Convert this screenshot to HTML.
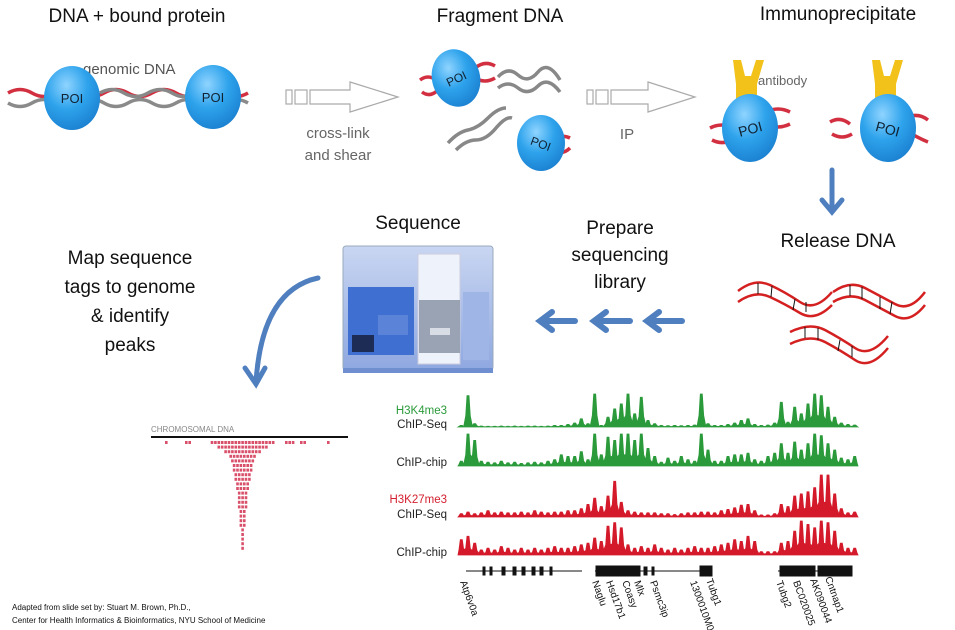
<!DOCTYPE html>
<html><head><meta charset="utf-8">
<style>
html,body{margin:0;padding:0;background:#fff;}
svg{display:block;}
.t{font-family:"Liberation Sans",sans-serif;fill:#111;}
</style></head>
<body>
<svg id="root" width="955" height="630" viewBox="0 0 955 630" xmlns="http://www.w3.org/2000/svg">
<defs>
<radialGradient id="poi" cx="0.4" cy="0.3" r="0.75"><stop offset="0" stop-color="#8fd4ff"/><stop offset="0.5" stop-color="#2ea3ec"/><stop offset="1" stop-color="#1a7fcf"/></radialGradient>
<linearGradient id="seqbox" x1="0" y1="0" x2="0" y2="1"><stop offset="0" stop-color="#c9d6f2"/><stop offset="1" stop-color="#8fa8e0"/></linearGradient>
</defs>

<text class="t" x="137" y="22" font-size="19" text-anchor="middle">DNA + bound protein</text>
<text class="t" x="500" y="22" font-size="19" text-anchor="middle">Fragment DNA</text>
<text class="t" x="838" y="20" font-size="19" text-anchor="middle">Immunoprecipitate</text>
<text class="t" x="418" y="229" font-size="19" text-anchor="middle">Sequence</text>
<g>
<text class="t" x="620" y="234" font-size="19" text-anchor="middle">Prepare</text>
<text class="t" x="620" y="261" font-size="19" text-anchor="middle">sequencing</text>
<text class="t" x="620" y="288" font-size="19" text-anchor="middle">library</text>
</g>
<text class="t" x="838" y="247" font-size="19" text-anchor="middle">Release DNA</text>
<g>
<text class="t" x="130" y="264" font-size="19" text-anchor="middle">Map sequence</text>
<text class="t" x="130" y="293" font-size="19" text-anchor="middle">tags to genome</text>
<text class="t" x="130" y="322" font-size="19" text-anchor="middle">&amp; identify</text>
<text class="t" x="130" y="351" font-size="19" text-anchor="middle">peaks</text>
</g>

<g fill="none" stroke-width="3.5">
<path d="M8 93 Q20 86 32 93 T56 93 T80 93 T104 93 T128 93 T152 93 T176 93 T200 93 T224 93 T248 93" stroke="#d23040"/>
<path d="M8 103 Q20 110 32 103 T56 103 T80 103 T104 103 T128 103 T152 103 T176 103 T200 103 T224 103 T248 103" stroke="#8a8a8a"/>
<path d="M100 93 Q112 86 124 93 T148 93 T172 93 T190 93" stroke="#888"/>
</g>
<text x="83" y="74" font-family="Liberation Sans,sans-serif" font-size="15" fill="#555">genomic DNA</text>
<g><ellipse cx="72" cy="98" rx="28" ry="32" fill="url(#poi)"/><text x="72" y="103" font-family="Liberation Sans,sans-serif" font-size="13" text-anchor="middle" fill="#123">POI</text></g>
<g><ellipse cx="213" cy="97" rx="28" ry="32" fill="url(#poi)"/><text x="213" y="102" font-family="Liberation Sans,sans-serif" font-size="13" text-anchor="middle" fill="#123">POI</text></g>

<g fill="#fff" stroke="#aaa" stroke-width="1.2">
<rect x="286" y="90" width="6" height="14"/><rect x="295" y="90" width="12" height="14"/>
<path d="M310 90 L350 90 L350 82 L398 97 L350 112 L350 104 L310 104 Z"/>
</g>
<g>
<text x="338" y="138" font-family="Liberation Sans,sans-serif" font-size="15" fill="#666" text-anchor="middle">cross-link</text>
<text x="338" y="160" font-family="Liberation Sans,sans-serif" font-size="15" fill="#666" text-anchor="middle">and shear</text>
</g>
<g fill="#fff" stroke="#aaa" stroke-width="1.2">
<rect x="587" y="90" width="6" height="14"/><rect x="596" y="90" width="12" height="14"/>
<path d="M611 90 L648 90 L648 82 L695 97 L648 112 L648 104 L611 104 Z"/>
</g>
<text x="627" y="139" font-family="Liberation Sans,sans-serif" font-size="15" fill="#666" text-anchor="middle">IP</text>

<g fill="none" stroke-width="3.5">
<path d="M420 80 Q428 74 436 80" stroke="#d23040"/><path d="M422 92 Q430 98 438 90" stroke="#d23040"/>
<path d="M475 68 Q485 60 495 66" stroke="#d23040"/><path d="M475 78 Q485 84 495 78" stroke="#d23040"/>
<path d="M498 77 Q508 66 518 75 T538 72 T560 80" stroke="#888"/>
<path d="M498 88 Q508 80 518 88 T538 86 T560 92" stroke="#888"/>
<path d="M448 143 Q458 132 468 130 T488 118 T506 108" stroke="#888"/>
<path d="M456 150 Q466 140 476 140 T496 128 T512 118" stroke="#888"/>
<path d="M552 140 Q562 134 570 138" stroke="#d23040"/><path d="M552 150 Q562 156 570 148" stroke="#d23040"/>
</g>
<g><ellipse cx="456" cy="78" rx="24" ry="29" fill="url(#poi)" transform="rotate(-15 456 78)"/><text x="456" y="83" font-family="Liberation Sans,sans-serif" font-size="12" text-anchor="middle" fill="#123" transform="rotate(-25 456 78)">POI</text></g>
<g><ellipse cx="541" cy="143" rx="24" ry="28" fill="url(#poi)"/><text x="541" y="148" font-family="Liberation Sans,sans-serif" font-size="12" text-anchor="middle" fill="#123" transform="rotate(20 541 143)">POI</text></g>

<g fill="#f2c21a">
<path d="M733 60 L741 60 L745 76 L751 76 L756 60 L764 60 L757 84 L757 100 L736 100 L736 84 Z"/>
<path d="M872 60 L880 60 L884 76 L890 76 L895 60 L903 60 L896 84 L896 100 L875 100 L875 84 Z"/>
</g>
<text x="758" y="85" font-family="Liberation Sans,sans-serif" font-size="13" fill="#666">antibody</text>
<g fill="none" stroke="#d23040" stroke-width="3.5">
<path d="M710 128 Q722 122 734 128"/><path d="M712 140 Q724 146 736 138"/>
<path d="M766 112 Q778 106 790 112"/><path d="M766 124 Q778 130 790 124"/>
<path d="M830 122 Q840 116 850 124"/><path d="M832 134 Q842 140 852 134"/>
<path d="M905 118 Q918 112 928 120"/><path d="M905 130 Q918 138 928 142"/>
</g>
<g><ellipse cx="750" cy="128" rx="28" ry="34" fill="url(#poi)"/><text x="750" y="134" font-family="Liberation Sans,sans-serif" font-size="14" text-anchor="middle" fill="#123" transform="rotate(-15 750 128)">POI</text></g>
<g><ellipse cx="888" cy="128" rx="28" ry="34" fill="url(#poi)"/><text x="888" y="134" font-family="Liberation Sans,sans-serif" font-size="14" text-anchor="middle" fill="#123" transform="rotate(15 888 128)">POI</text></g>

<g stroke="#4f7fbf" stroke-width="5" fill="none" stroke-linecap="round">
<path d="M832 170 L832 210"/><path d="M822 200 L832 212 L842 200"/>
</g>
<g stroke="#4f7fbf" stroke-width="6" fill="none" stroke-linecap="round">
<path d="M544 321 L575 321"/><path d="M552 312 L540 321 L552 330"/>
<path d="M598 321 L630 321"/><path d="M606 312 L594 321 L606 330"/>
<path d="M651 321 L682 321"/><path d="M659 312 L647 321 L659 330"/>
</g>
<g stroke="#4f7fbf" stroke-width="5" fill="none" stroke-linecap="round">
<path d="M318 278 Q262 290 256 382"/><path d="M245 368 L256 384 L265 368"/>
</g>

<g fill="none" stroke="#d42020" stroke-width="2.5">
<path d="M738 291 Q755 278 770 285 T800 302 T832 292"/><path d="M738 302 Q755 290 770 297 T800 313 T832 305"/>
<path d="M833 292 Q850 280 865 288 T895 304 T925 292"/><path d="M833 302 Q850 292 865 300 T895 316 T925 305"/>
<path d="M790 332 Q810 322 825 330 T855 348 T888 336"/><path d="M790 344 Q810 334 825 342 T855 360 T888 348"/>
</g>
<g stroke="#111" stroke-width="1">
<path d="M758 283 L758 294 M772 286 L771 297 M795 299 L793 310 M806 302 L806 312 M850 285 L850 296 M862 287 L862 299 M880 297 L880 309 M892 302 L890 314 M805 327 L805 338 M818 328 L818 340 M840 340 L838 351 M852 346 L852 357"/>
</g>

<g>
<rect x="343" y="246" width="150" height="124" rx="3" fill="url(#seqbox)" stroke="#9ab" stroke-width="1"/>
<rect x="348" y="287" width="66" height="68" fill="#3f6fd0"/>
<rect x="352" y="335" width="22" height="17" fill="#1d2c55"/>
<rect x="378" y="315" width="30" height="20" fill="#5b83d8"/>
<rect x="418" y="254" width="42" height="110" fill="#eef2fa" stroke="#ccd" stroke-width="1"/>
<rect x="419" y="300" width="41" height="53" fill="#9aa3b4"/>
<rect x="430" y="328" width="20" height="7" fill="#d8dce4"/>
<rect x="463" y="292" width="26" height="68" fill="#9fb5e6"/>
<rect x="343" y="368" width="150" height="5" fill="#6f8fd0"/>
</g>

<text x="151" y="432" font-family="Liberation Sans,sans-serif" font-size="8" fill="#888">CHROMOSOMAL DNA</text>
<line x1="151" y1="437" x2="348" y2="437" stroke="#111" stroke-width="2"/>
<g id="pile"></g>

<g id="tracks"></g>
<g font-family="Liberation Sans,sans-serif" font-size="11.5">
<text x="447" y="414" fill="#2a9a3a" text-anchor="end">H3K4me3</text>
<text x="447" y="428" fill="#222" text-anchor="end">ChIP-Seq</text>
<text x="447" y="466" fill="#222" text-anchor="end">ChIP-chip</text>
<text x="447" y="503" fill="#d42030" text-anchor="end">H3K27me3</text>
<text x="447" y="518" fill="#222" text-anchor="end">ChIP-Seq</text>
<text x="447" y="556" fill="#222" text-anchor="end">ChIP-chip</text>
</g>

<g stroke="#111" fill="#111">
<line x1="466" y1="571" x2="582" y2="571" stroke-width="1"/>
<line x1="595" y1="571" x2="712" y2="571" stroke-width="1"/>
<line x1="778" y1="571" x2="852" y2="571" stroke-width="1"/>
<rect x="483" y="567" width="2" height="8"/><rect x="490" y="567" width="2" height="8"/><rect x="502" y="567" width="3" height="8"/><rect x="513" y="567" width="3" height="8"/><rect x="522" y="567" width="3" height="8"/><rect x="532" y="567" width="3" height="8"/><rect x="540" y="567" width="3" height="8"/><rect x="550" y="567" width="2" height="8"/>
<rect x="596" y="566" width="44" height="10"/><rect x="644" y="567" width="3" height="8"/><rect x="652" y="567" width="2" height="8"/><rect x="700" y="566" width="12" height="10"/>
<rect x="780" y="566" width="35" height="10"/><rect x="818" y="566" width="34" height="10"/>
</g>
<g font-family="Liberation Sans,sans-serif" font-size="10" fill="#111">
<text transform="translate(460 582) rotate(70)">Atp6v0a</text>
<text transform="translate(592 582) rotate(70)">Naglu</text>
<text transform="translate(606 582) rotate(70)">Hsd17b1</text>
<text transform="translate(622 582) rotate(70)">Coasy</text>
<text transform="translate(634 582) rotate(70)">Mlx</text>
<text transform="translate(650 582) rotate(70)">Psmc3ip</text>
<text transform="translate(690 582) rotate(70)">1300010M03Rik</text>
<text transform="translate(706 580) rotate(70)">Tubg1</text>
<text transform="translate(776 582) rotate(70)">Tubg2</text>
<text transform="translate(793 582) rotate(70)">BC020025</text>
<text transform="translate(810 580) rotate(70)">AK090044</text>
<text transform="translate(825 578) rotate(70)">Cntnap1</text>
</g>

<g>
<text x="12" y="610" font-family="Liberation Sans,sans-serif" font-size="8" fill="#111">Adapted from slide set by: Stuart M. Brown, Ph.D.,</text>
<text x="12" y="623" font-family="Liberation Sans,sans-serif" font-size="8" fill="#111">Center for Health Informatics &amp; Bioinformatics, NYU School of Medicine</text>
</g>
</svg>
<script>
const binCount = 60;
const k4Seq = [0.05,0.95,0.1,0.03,0.02,0.02,0.03,0.02,0.03,0.02,0.03,0.03,0.02,0.03,0.05,0.05,0.08,0.12,0.25,0.1,1.0,0.05,0.3,0.55,0.7,1.0,0.4,0.9,0.2,0.1,0.05,0.04,0.05,0.04,0.05,0.06,1.0,0.1,0.05,0.05,0.08,0.12,0.2,0.25,0.08,0.05,0.06,0.12,0.75,0.15,0.6,0.4,0.7,1.0,0.95,0.6,0.3,0.12,0.08,0.06];
const k4Chip = [0.15,1.0,0.8,0.15,0.12,0.1,0.15,0.1,0.12,0.08,0.1,0.12,0.1,0.15,0.2,0.35,0.3,0.3,0.45,0.2,1.0,0.35,0.9,0.8,1.0,1.0,0.8,1.0,0.55,0.3,0.12,0.25,0.15,0.3,0.2,0.15,1.0,0.5,0.15,0.15,0.3,0.35,0.35,0.4,0.2,0.15,0.3,0.4,0.7,0.4,0.75,0.5,0.7,1.0,0.95,0.7,0.5,0.25,0.2,0.3];
const k27Seq = [0.08,0.12,0.08,0.1,0.15,0.1,0.12,0.1,0.1,0.12,0.1,0.15,0.12,0.1,0.12,0.12,0.15,0.15,0.2,0.3,0.45,0.25,0.5,0.85,0.35,0.15,0.12,0.1,0.1,0.1,0.08,0.08,0.06,0.08,0.1,0.1,0.12,0.12,0.1,0.15,0.18,0.22,0.28,0.3,0.15,0.05,0.05,0.08,0.3,0.25,0.5,0.55,0.6,0.7,1.0,1.0,0.55,0.2,0.1,0.12];
const k27Chip = [0.45,0.55,0.35,0.15,0.2,0.15,0.25,0.2,0.15,0.2,0.15,0.2,0.15,0.2,0.25,0.2,0.2,0.25,0.3,0.35,0.5,0.4,0.85,0.95,0.8,0.3,0.2,0.25,0.2,0.3,0.2,0.15,0.2,0.15,0.2,0.25,0.2,0.2,0.25,0.3,0.35,0.45,0.4,0.55,0.4,0.1,0.1,0.1,0.35,0.4,0.7,1.0,0.9,0.8,1.0,0.95,0.7,0.35,0.2,0.2];
const pileRows = [19,15,11,8,7,6,6,5,5,4,4,3,3,3,3,2,2,2,2,1,1,1,1,1];

const NS = "http://www.w3.org/2000/svg";
const x0 = 458, x1 = 858;
function xScale(i){ return x0 + (x1 - x0) * i / binCount; }
function yScale(v, base, h){ return base - v * h; }
const tracks = document.getElementById('tracks');
function drawTrack(vals, base, h, color, name){
  let d = 'M' + xScale(0) + ' ' + base;
  vals.forEach((v,i)=>{
    const xa = xScale(i), w = xScale(i+1) - xa, y = yScale(v, base, h);
    const yb = yScale(v*0.35, base, h);
    d += ' L' + (xa+w*0.15).toFixed(1) + ' ' + yb.toFixed(1) + ' L' + (xa+w*0.35).toFixed(1) + ' ' + y.toFixed(1) + ' L' + (xa+w*0.65).toFixed(1) + ' ' + y.toFixed(1) + ' L' + (xa+w*0.85).toFixed(1) + ' ' + yb.toFixed(1);
  });
  d += ' L' + xScale(binCount) + ' ' + base + ' Z';
  const p = document.createElementNS(NS,'path');
  p.setAttribute('d', d);
  p.setAttribute('fill', color);
  p.setAttribute('stroke', color);
  p.setAttribute('stroke-width', '0.8');
  
  
  tracks.appendChild(p);
}
drawTrack(k4Seq, 427, 33, '#2a9a3a', 'h3k4me3-chip-seq-track');
drawTrack(k4Chip, 466, 32, '#2a9a3a', 'h3k4me3-chip-chip-track');
drawTrack(k27Seq, 517, 42, '#d41a2a', 'h3k27me3-chip-seq-track');
drawTrack(k27Chip, 555, 34, '#d41a2a', 'h3k27me3-chip-chip-track');

const pile = document.getElementById('pile');
const cx = 243, dotW = 3.4, rowH = 4.6, pileTop = 441;
pileRows.forEach((n,r)=>{
  for(let c=0;c<n;c++){
    const rc = document.createElementNS(NS,'rect');
    rc.setAttribute('x', (cx - n*dotW/2 + c*dotW).toFixed(1));
    rc.setAttribute('y', (pileTop + r*rowH).toFixed(1));
    rc.setAttribute('width', '2.6');
    rc.setAttribute('height', '3');
    rc.setAttribute('fill', '#d9506a');
    
    
    pile.appendChild(rc);
  }
});
[[165,1],[185,2],[285,3],[300,2],[327,1]].forEach(([x,n])=>{
  for(let c=0;c<n;c++){
    const rc = document.createElementNS(NS,'rect');
    rc.setAttribute('x', x + c*3.4);
    rc.setAttribute('y', pileTop);
    rc.setAttribute('width', '2.6');
    rc.setAttribute('height', '3');
    rc.setAttribute('fill', '#d9506a');
    
    
    pile.appendChild(rc);
  }
});
</script>
</body></html>
